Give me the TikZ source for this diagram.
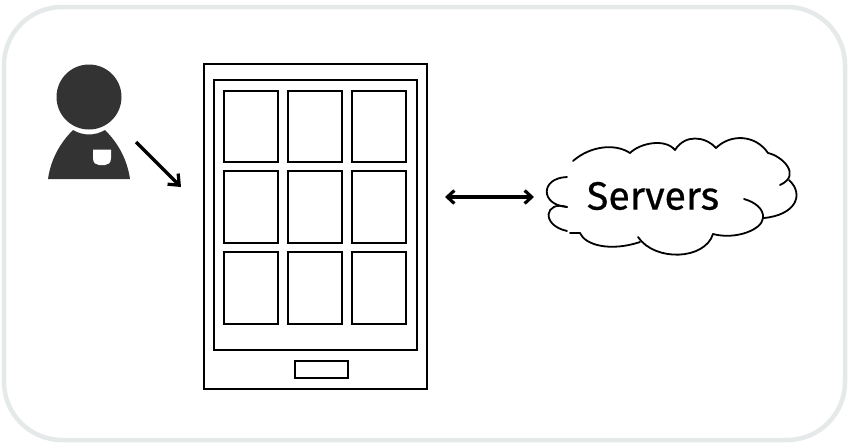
\documentclass[tikz,border=0pt]{standalone}
\usepackage{fontspec}
\setmainfont{Fira Sans}
\newfontfamily\srvfont[FakeBold=0.5]{Fira Sans}
\usetikzlibrary{arrows.meta}
\definecolor{framegrey}{HTML}{E6E9E9}
\definecolor{persongrey}{HTML}{333333}
\tikzset{
  box/.style={draw=black,line width=2.2pt,fill=white,inner sep=0pt,outer sep=0pt,anchor=north west},
  tile/.style={box,minimum width=54pt,minimum height=71pt},
  cloudline/.style={draw=black,line width=1.8pt,line cap=round},
  link/.style={draw=black,line width=3.2pt,-{Straight Barb[length=9pt,width=15pt,line width=3.2pt]}},
  biglink/.style={draw=black,line width=3.2pt,{Straight Barb[length=7pt,width=13pt,line width=3.2pt]}-{Straight Barb[length=7pt,width=13pt,line width=3.2pt]}}
}
\begin{document}
\begin{tikzpicture}[x=1pt,y=-1pt]
\useasboundingbox (0,0) rectangle (848,445);
\fill[white] (0,0) rectangle (848,445);
\draw[framegrey,line width=4.5pt,rounded corners=58pt] (4,7) rectangle (845,440);
% person
\fill[persongrey] (48,179) .. controls (51,158) and (61,142) .. (73,130) .. controls (83,136) and (95,136) .. (105,130) .. controls (117,142) and (127,158) .. (130,179) -- cycle;
\fill[white] (93,149.5) -- (111,149.5) -- (111,158) .. controls (111,163) and (108,165) .. (105,165) -- (99,165) .. controls (96,165) and (93,163) .. (93,158) -- cycle;
\node[circle,fill=persongrey,minimum size=65pt,inner sep=0pt,outer sep=0pt] (head) at (89,97) {};
% tablet
\node[box,minimum width=223pt,minimum height=325pt] (tablet) at (204,64) {};
\node[box,minimum width=203pt,minimum height=270pt] (screen) at (214,80) {};
\node[tile] (t11) at (224,91) {};
\node[tile] (t12) at (288,91) {};
\node[tile] (t13) at (352,91) {};
\node[tile,minimum height=72pt] (t21) at (224,171) {};
\node[tile,minimum height=72pt] (t22) at (288,171) {};
\node[tile,minimum height=72pt] (t23) at (352,171) {};
\node[tile,minimum height=72pt] (t31) at (224,252) {};
\node[tile,minimum height=72pt] (t32) at (288,252) {};
\node[tile,minimum height=72pt] (t33) at (352,252) {};
\node[box,minimum width=53pt,minimum height=17pt] (button) at (295,361) {};
% cloud
\draw[cloudline] (573,161) .. controls (590,146) and (615,143) .. (630,153);
\draw[cloudline] (630,153) .. controls (640,143) and (665,138) .. (675,150);
\draw[cloudline] (675,150) .. controls (685,134) and (705,136) .. (716,148);
\draw[cloudline] (716,148) .. controls (730,134) and (755,134) .. (768,153);
\draw[cloudline] (768,153) .. controls (782,156) and (802,175) .. (780,185);
\draw[cloudline] (789,180) .. controls (805,195) and (795,215) .. (764,218);
\draw[cloudline] (744,199) .. controls (755,202) and (764,209) .. (763,218) .. controls (762,230) and (735,240) .. (713,234);
\draw[cloudline] (713,234) .. controls (705,260) and (655,262) .. (638,237);
\draw[cloudline] (640,242) .. controls (610,252) and (585,245) .. (580,233);
\draw[cloudline] (580,233) -- (570,233);
\draw[cloudline] (567,231) .. controls (540,225) and (545,200) .. (567,207);
\draw[cloudline] (567,207) .. controls (540,205) and (540,178) .. (567,177);
\node[font=\srvfont\fontsize{39.5}{40}\selectfont,inner sep=0pt] (servers) at (653,196) {Servers};
% connectors
\coordinate (p) at (136,142);
\coordinate (q) at (181,187);
\draw[link] (p) -- (q);
\coordinate (a) at (445,197);
\coordinate (b) at (534,197);
\draw[biglink] (a) -- (b);
\end{tikzpicture}
\end{document}
